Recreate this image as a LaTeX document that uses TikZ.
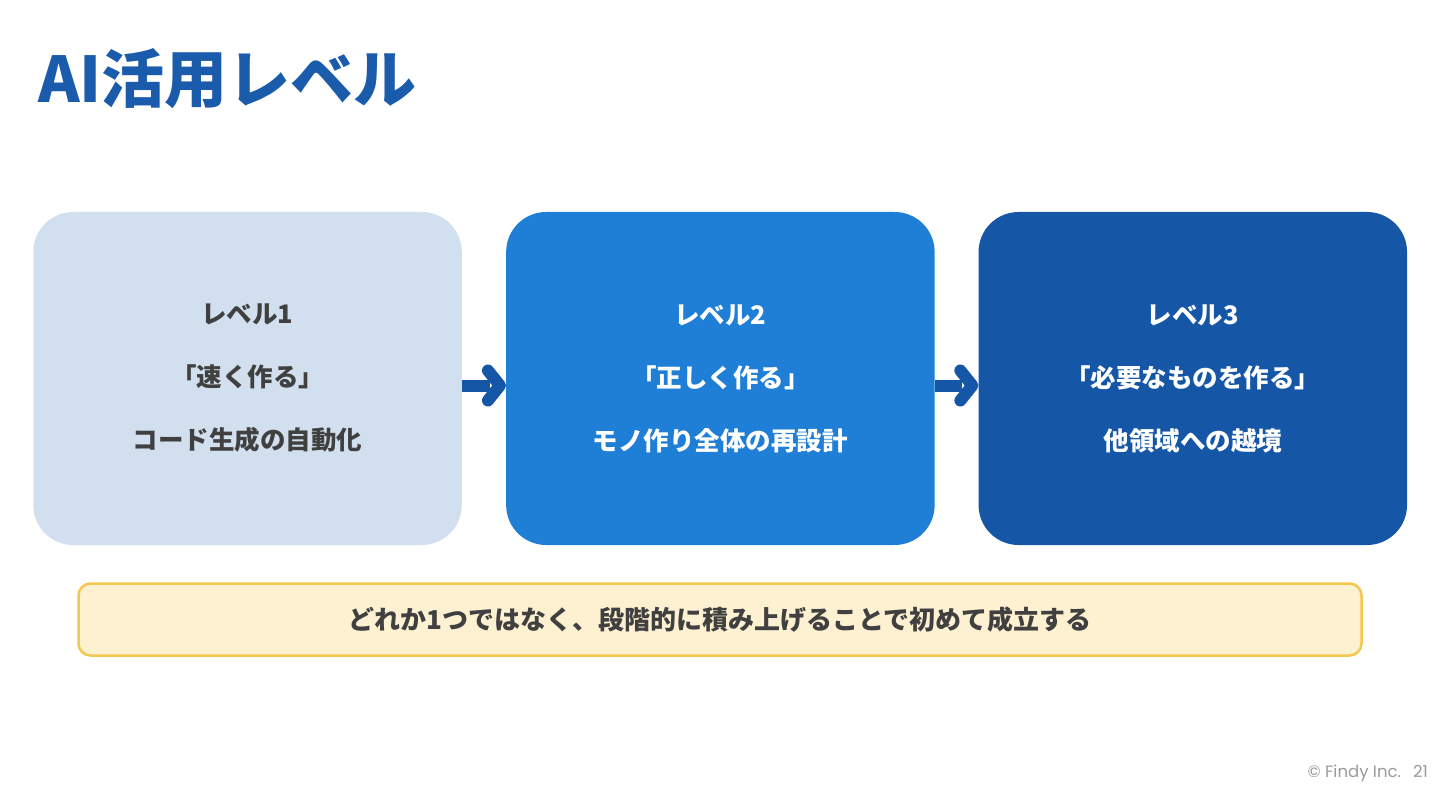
\documentclass[tikz,border=0pt]{standalone}
\usepackage{fontspec}
\usetikzlibrary{positioning}
\newfontfamily\jp{Noto Sans CJK JP}
\newfontfamily\footfont{Poppins}

\definecolor{titleblue}{HTML}{1A5CAB}
\definecolor{paleblue}{HTML}{D1DFEE}
\definecolor{midblue}{HTML}{1F7ED6}
\definecolor{deepblue}{HTML}{1557A6}
\definecolor{inkgray}{HTML}{404040}
\definecolor{notefill}{HTML}{FEF1D2}
\definecolor{noteline}{HTML}{F4C84E}
\definecolor{footgray}{HTML}{9A9A9A}

\tikzset{
  levelbox/.style={rounded corners=40pt, minimum width=428.5pt, minimum height=333pt,
    inner sep=0pt, align=center, font=\jp\bfseries\fontsize{25.5}{30}\selectfont},
  flow/.style={draw=deepblue, line width=12pt},
}

\begin{document}
\begin{tikzpicture}[x=1pt,y=-1pt]
		\useasboundingbox[fill=white] (0,0) rectangle (1440,810);
		\node[anchor=base west, text=titleblue, font=\jp\bfseries\fontsize{63}{72}\selectfont, inner sep=0pt] (title) at (38,103) {AI活用レベル};
		% the three levels
		\node[levelbox, fill=paleblue, text=inkgray] (lv1) at (247.5,378.5) {レベル1\\[33pt]「速く作る」\\[33pt]コード生成の自動化};
		\node[levelbox, fill=midblue, text=white, right=44pt of lv1] (lv2) {レベル2\\[33pt]「正しく作る」\\[33pt]モノ作り全体の再設計};
		\node[levelbox, fill=deepblue, text=white, right=43.5pt of lv2] (lv3) {レベル3\\[33pt]「必要なものを作る」\\[33pt]他領域への越境};
		% arrows between them
		\foreach \a/\b in {lv1/lv2, lv2/lv3} {
			\coordinate (tip) at ([xshift=-6pt,yshift=-7pt]\b.west);
			\draw[flow] ([yshift=-7pt]\a.east) -- ([xshift=-10pt]tip);
			\draw[flow, line cap=round, line join=round] ([xshift=-12pt,yshift=15pt]tip) -- (tip) -- ([xshift=-12pt,yshift=-15pt]tip);
		}
		% note
		\node[draw=noteline, line width=2.5pt, fill=notefill, rounded corners=12pt, minimum width=1283pt, minimum height=72pt,
		  text=inkgray, font=\jp\bfseries\fontsize{26}{30}\selectfont] (note) at (720,619.5) {どれか1つではなく、段階的に積み上げることで初めて成立する};
		\node[anchor=base east, text=footgray, font=\footfont\fontsize{16.5}{20}\selectfont, inner sep=0pt] (foot) at (1428,777) {© Findy Inc.\hspace{12pt}21};
	\end{tikzpicture}
\end{document}
